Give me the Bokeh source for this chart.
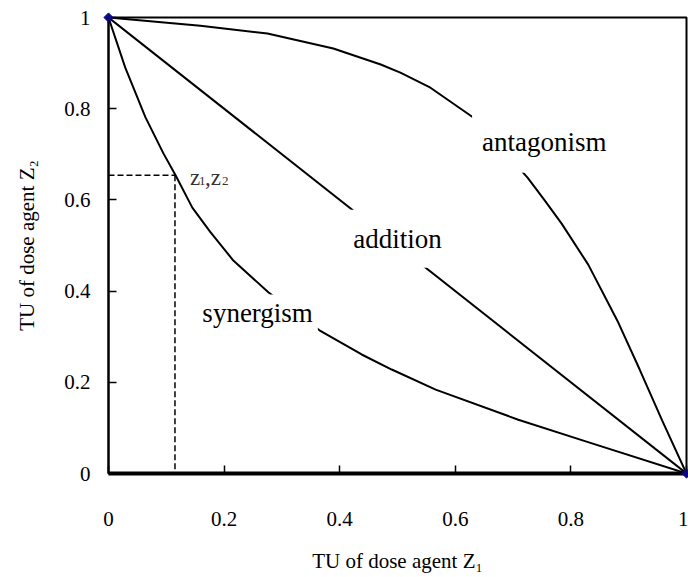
from bokeh.plotting import figure
from bokeh.models import FixedTicker, Label, NumeralTickFormatter
from bokeh.embed import file_html
from bokeh.resources import INLINE
import math

# ---- data ----
add_x = [0.0, 1.0]
add_y = [1.0, 0.0]

syn_x = [0.0, 0.029, 0.064, 0.095, 0.116, 0.145, 0.176, 0.216, 0.277, 0.365, 0.438, 0.49, 0.566, 0.709, 0.827, 1.0]
syn_y = [1.0, 0.89, 0.781, 0.702, 0.654, 0.583, 0.530, 0.467, 0.397, 0.314, 0.261, 0.228, 0.184, 0.118, 0.070, 0.0]

ant_x = [0.0, 0.159, 0.275, 0.389, 0.471, 0.505, 0.557, 0.633, 0.725, 0.754, 0.784, 0.83, 0.882, 0.919, 0.958, 1.0]
ant_y = [1.0, 0.982, 0.965, 0.932, 0.897, 0.879, 0.846, 0.779, 0.649, 0.600, 0.548, 0.458, 0.331, 0.228, 0.116, 0.0]

end_x = [0.0, 1.0]
end_y = [1.0, 0.0]

z1 = 0.115
z2 = 0.654

x_ticks = [0, 0.2, 0.4, 0.6, 0.8, 1]
x_tick_labels = ["0", "0.2", "0.4", "0.6", "0.8", "1"]
y_ticks = [0, 0.2, 0.4, 0.6, 0.8, 1]
y_tick_labels = ["0", "0.2", "0.4", "0.6", "0.8", "1"]

FONT = "Liberation Serif"

p = figure(width=688, height=577, x_range=(0, 1), y_range=(0, 1),
           output_backend="svg", toolbar_location=None,
           min_border_left=108, min_border_right=2, min_border_top=17, min_border_bottom=104)

p.background_fill_color = "white"
p.border_fill_color = "white"
p.outline_line_color = "black"
p.outline_line_width = 2
p.xgrid.visible = False
p.ygrid.visible = False

for ax, ticks, labels in ((p.xaxis[0], x_ticks, x_tick_labels), (p.yaxis[0], y_ticks, y_tick_labels)):
    ax.ticker = FixedTicker(ticks=ticks)
    ax.formatter = NumeralTickFormatter(format="0.[0]")
    ax.major_label_overrides = dict(zip(ticks, labels))
    ax.minor_tick_line_color = None
    ax.major_tick_in = 8
    ax.major_tick_out = 0
    ax.major_tick_line_width = 1.5
    ax.major_tick_line_color = "black"
    ax.axis_line_color = "black"
    ax.major_label_text_font = FONT
    ax.major_label_text_font_size = "21px"
    ax.major_label_text_color = "black"
    ax.axis_label_text_font = FONT
    ax.axis_label_text_font_size = "21px"
    ax.axis_label_text_font_style = "normal"
    ax.axis_label_text_color = "black"

p.xaxis.axis_label = "TU of dose agent Z\u2081"
p.yaxis.axis_label = "TU of dose agent Z\u2082"
p.xaxis.axis_line_width = 4
p.yaxis.axis_line_width = 2
p.xaxis.major_label_standoff = 38
p.xaxis.axis_label_standoff = 20
p.yaxis.major_label_standoff = 18
p.yaxis.axis_label_standoff = 22

# curves
p.line(add_x, add_y, line_color="black", line_width=2)
p.line(syn_x, syn_y, line_color="black", line_width=2)
p.line(ant_x, ant_y, line_color="black", line_width=2)

# dashed guide lines to (z1, z2)
p.line([0, z1], [z2, z2], line_color="black", line_width=1.5, line_dash="6 3")
p.line([z1, z1], [z2, 0], line_color="black", line_width=1.5, line_dash="6 3")

# end markers
r = p.scatter(end_x, end_y, marker="square", size=6.5, angle=math.pi / 4,
              fill_color="#0a0a80", line_color="#0a0a80")
r.level = "overlay"

# curve labels with white boxes (interrupt the curves)
def curve_label(txt, x, y, pad):
    lab = Label(x=x, y=y, text=txt, text_font=FONT, text_font_size="27px",
                text_color="black", text_align="center", text_baseline="middle",
                background_fill_color="white", padding=pad)
    p.add_layout(lab)

curve_label("addition", 0.5, 0.515, dict(top=14, bottom=14, left=4, right=4))
curve_label("antagonism", 0.754, 0.723, dict(top=12, bottom=16, left=10, right=10))
curve_label("synergism", 0.258, 0.351, dict(top=4, bottom=4, left=5, right=5))

# z1,z2 label
for txt, dx, dy, size in (("z", 15, -2, "23px"), ("1", 24, -6, "13px"),
                          (",z", 30, -2, "23px"), ("2", 47, -6, "13px")):
    p.add_layout(Label(x=z1, y=z2, text=txt, x_offset=dx, y_offset=dy,
                       text_font=FONT, text_font_size=size, text_color="#333333",
                       text_align="left", text_baseline="alphabetic"))

open("out.html", "w").write(file_html(p, INLINE))
